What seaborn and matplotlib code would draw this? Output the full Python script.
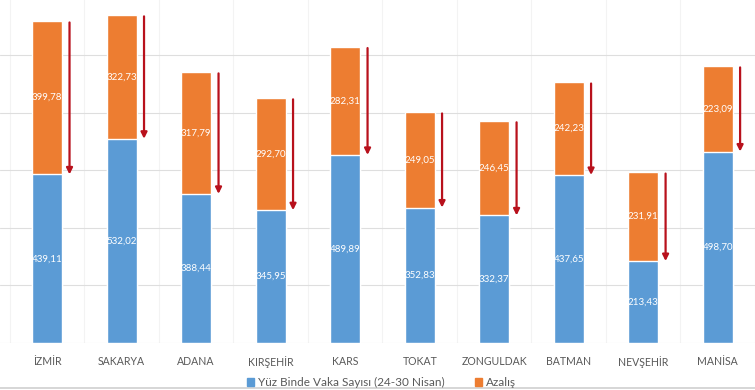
import matplotlib
matplotlib.use('Agg')
import matplotlib.pyplot as plt
import seaborn as sns
import pandas as pd
from matplotlib.patches import Patch
from matplotlib.lines import Line2D

# Veriler
iller = ['İZMİR', 'SAKARYA', 'ADANA', 'KIRŞEHİR', 'KARS', 'TOKAT',
         'ZONGULDAK', 'BATMAN', 'NEVŞEHİR', 'MANİSA']
vaka = [439.11, 532.02, 388.44, 345.95, 489.89, 352.83, 332.37, 437.65, 213.43, 498.70]
azalis = [399.78, 322.73, 317.79, 292.70, 282.31, 249.05, 246.45, 242.23, 231.91, 223.09]

mavi = '#5B9BD5'
turuncu = '#ED7D31'
kirmizi = '#B8111C'

df = pd.DataFrame({'il': iller, 'vaka': vaka, 'azalis': azalis})
df['toplam'] = df['vaka'] + df['azalis']

sns.set_style('white')
plt.rcParams['font.family'] = ['Lato', 'DejaVu Sans']

fig = plt.figure(figsize=(7.55, 3.9), dpi=100)
ax = fig.add_axes([0.0, 0.1205, 1.0, 0.886])

sns.barplot(data=df, x='il', y='toplam', color=turuncu, width=0.4,
            saturation=1, ax=ax, zorder=2)
sns.barplot(data=df, x='il', y='vaka', color=mavi, width=0.4,
            saturation=1, ax=ax, zorder=3)

# Etiketler ve oklar
for i, row in df.iterrows():
    ax.text(i, row['vaka'] / 2, f"{row['vaka']:.2f}".replace('.', ','),
            ha='center', va='center', color='white', fontsize=7, zorder=5)
    ax.text(i, row['vaka'] + row['azalis'] / 2, f"{row['azalis']:.2f}".replace('.', ','),
            ha='center', va='center', color='white', fontsize=7, zorder=5)
    ax.annotate('', xy=(i + 0.3, row['vaka']), xytext=(i + 0.3, row['toplam'] - 4),
                arrowprops=dict(arrowstyle='-|>', color=kirmizi, lw=1.6,
                                mutation_scale=9, shrinkA=0, shrinkB=0),
                zorder=6)

ax.set_xlim(-0.633, 9.327)
ax.set_ylim(0, 900)
ax.set_yticks(range(0, 901, 150))
ax.yaxis.grid(True, color='#dedede', lw=0.8, zorder=0)
ax.set_xticks([x + 0.5 for x in range(-1, 10)], minor=True)
ax.xaxis.grid(True, which='minor', color='#f3f3f3', lw=0.8, zorder=0)
ax.tick_params(axis='y', left=False, labelleft=False)
ax.tick_params(axis='x', which='both', bottom=False, labelsize=7.6,
               labelcolor='#595959', pad=6)
ax.set_xlabel('')
ax.set_ylabel('')
for s in ax.spines.values():
    s.set_visible(False)

handles = [Patch(color=mavi, label='Yüz Binde Vaka Sayısı (24-30 Nisan)'),
           Patch(color=turuncu, label='Azalış')]
fig.legend(handles=handles, loc='lower center', bbox_to_anchor=(0.505, -0.022),
           ncol=2, frameon=False, fontsize=8.5, handlelength=0.6, handleheight=0.6,
           handletextpad=0.3, columnspacing=2.6, labelcolor='#595959')

# alt kenardaki ince gri çizgi
fig.add_artist(Line2D([0, 1], [0.004, 0.004], transform=fig.transFigure,
                      color='#d0d0d0', lw=1.2))

fig.savefig('out.png', dpi=100)
